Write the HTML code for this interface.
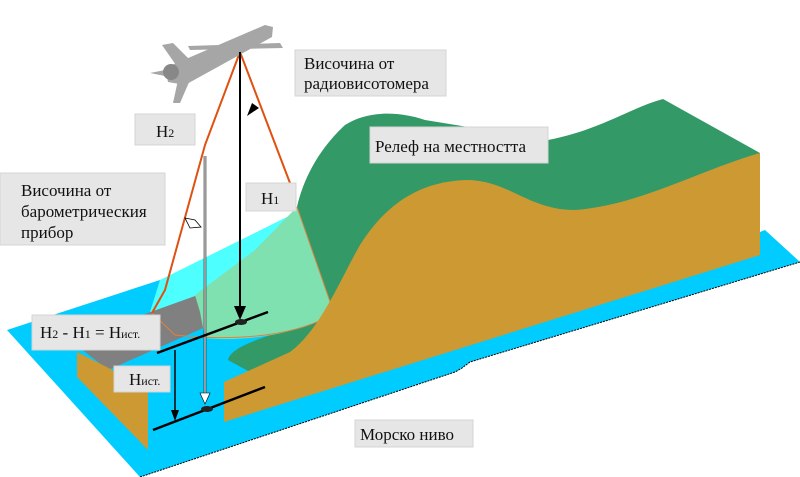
<!DOCTYPE html>
<html><head><meta charset="utf-8"><style>
html,body{margin:0;padding:0;background:#fff;}
svg{display:block}
text{font-family:"Liberation Serif","DejaVu Serif",serif;fill:#111;}
</style></head><body>
<svg width="800" height="477" viewBox="0 0 800 477" xmlns="http://www.w3.org/2000/svg">
<!-- sea plane -->
<polygon points="7,330 160,280 300,232 760,232 765,230 800,262 470,362 462,368 455,372 140,477" fill="#00ccff"/>
<path d="M140,477 L455,372 L462,368 L470,362 L800,262" fill="none" stroke="#000" stroke-width="1" stroke-dasharray="2,1"/>
<!-- light cyan part in cone -->
<polygon points="160,280 297,212 334,313 150,312" fill="#4dffff"/>
<!-- gray rectangle -->
<polygon points="145,314 195,296 217,322 108,370 80,348" fill="#808080"/>
<!-- dark green terrain -->
<path d="M297,207 C303,180 318,150 345,125 C365,112 395,110 425,120 L548,140 C600,130 630,108 663,99 L760,153 L760,255 L250,372 L228,360 C232,340 300,330 334,313 Z" fill="#339966"/>
<!-- light green footprint -->
<path d="M255,250 L297,207 L334,313 C300,335 240,342 205,338 L200,312 L195,295 Z" fill="#7fe0b0"/>
<path d="M297,207 L334,313 C300,335 240,342 175,335 L152,313" fill="none" stroke="#e08040" stroke-width="1"/>
<!-- brown big slab -->
<path d="M224,382 L290,352 C320,330 340,280 360,245 C385,205 420,180 470,180 C510,182 530,210 575,210 C640,205 700,170 760,153 L760,255 L224,422 Z" fill="#cc9933"/>
<!-- brown left small -->
<polygon points="77,352 148,388 148,450 77,377" fill="#cc9933"/>
<!-- cone edges -->
<polyline points="240,52 205,145 165,290 152,313" fill="none" stroke="#e05010" stroke-width="2"/>
<line x1="240" y1="52" x2="290" y2="183" stroke="#e05010" stroke-width="2"/>
<path d="M252,103 L247,116 L259,108 Z" fill="#000"/>
<!-- airplane -->
<g fill="#a6a6a6">
<polygon points="165,68 265,25 273,27 272,37 185,85 168,82"/>
<polygon points="188,46 280,43 283,48 190,50"/>
<polygon points="162,45 173,43 195,65 178,68"/>
<polygon points="178,80 190,80 180,103 173,103"/>
<polygon points="150,73 165,70 165,76"/>
<polygon points="185,68 200,64 205,66 190,70"/>
</g>
<circle cx="171" cy="72" r="8" fill="#888"/>
<!-- vertical lines -->
<line x1="240" y1="52" x2="240" y2="312" stroke="#000" stroke-width="2"/>
<path d="M234,306 L246,306 L240,320 Z" fill="#000"/>
<line x1="205" y1="156" x2="205" y2="400" stroke="#000" stroke-width="2.5"/>
<line x1="205" y1="156" x2="205" y2="402" stroke="#fff" stroke-width="1.2"/>
<path d="M200,393 L210,393 L205,404 Z" fill="#fff" stroke="#000" stroke-width="0.6"/>
<path d="M185,218 L195,220 L201,227 L190,228 Z" fill="#fff" stroke="#000" stroke-width="0.8"/>
<line x1="157" y1="353" x2="268" y2="312" stroke="#000" stroke-width="2.5"/>
<line x1="153" y1="430" x2="265" y2="387" stroke="#000" stroke-width="2.5"/>
<ellipse cx="241" cy="322" rx="6" ry="3" fill="#222"/>
<ellipse cx="207" cy="409" rx="6" ry="3" fill="#222"/>
<line x1="175" y1="350" x2="175" y2="418" stroke="#000" stroke-width="1.5"/>
<path d="M171,410 L179,410 L175,421 Z" fill="#000"/>
<!-- labels -->
<g fill="#e6e6e6" stroke="#d4d4d4" stroke-width="1">
<rect x="295" y="50" width="151" height="46"/>
<rect x="135" y="114" width="60" height="31"/>
<rect x="0" y="173" width="165" height="72"/>
<rect x="246" y="183" width="50" height="28"/>
<rect x="370" y="127" width="178" height="36"/>
<rect x="32" y="315" width="128" height="35"/>
<rect x="114" y="366" width="56" height="26"/>
<rect x="355" y="420" width="118" height="27"/>
</g>
<g font-size="17">
<text x="304" y="69">Височина от</text>
<text x="304" y="89">радиовисотомера</text>
<text x="156" y="137">H<tspan font-size="12">2</tspan></text>
<text x="21" y="196">Височина от</text>
<text x="21" y="217">барометрическия</text>
<text x="21" y="238">прибор</text>
<text x="261" y="204">H<tspan font-size="12">1</tspan></text>
<text x="375" y="152">Релеф на местността</text>
<text x="40" y="338">H<tspan font-size="12">2</tspan>  - H<tspan font-size="12">1</tspan> = H<tspan font-size="12">ист.</tspan></text>
<text x="129" y="385">H<tspan font-size="12">ист.</tspan></text>
<text x="360" y="440">Морско ниво</text>
</g>
</svg>
</body></html>
